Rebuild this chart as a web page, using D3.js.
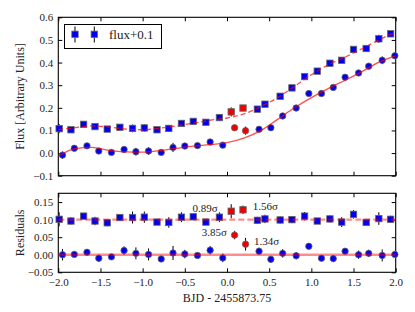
<!DOCTYPE html>
<html>
<head>
<meta charset="utf-8">
<script src="https://cdn.jsdelivr.net/npm/d3@7"></script>
<style>
  body { margin: 0; background: #fff; }
  svg text { font-family: "Liberation Serif", "Times New Roman", Times, "DejaVu Serif", serif; fill: #222; }
  .tick line { stroke: #000; }
</style>
</head>
<body>
<div id="svg_container"></div>
<script>
/* -----------------------
data
------------------------- */

// lower series (circles), flux and residuals
var xLow = [-1.95,-1.81,-1.66,-1.52,-1.37,-1.22,-1.08,-0.93,-0.78,-0.64,-0.50,-0.35,-0.20,-0.05,0.09,0.22,0.38,0.52,0.66,0.82,0.97,1.12,1.26,1.40,1.56,1.68,1.84,1.99]
var fluxLow = [-0.009,0.021,0.032,0.009,0.003,0.016,0.006,0.009,0.003,0.025,0.031,0.033,0.049,0.035,0.112,0.099,0.105,0.112,0.164,0.199,0.263,0.263,0.290,0.335,0.354,0.384,0.410,0.430]
var errLow = [0.016,0.008,0.007,0.010,0.008,0.012,0.017,0.017,0.008,0.020,0.012,0.006,0.012,0.012,0.012,0.018,0.010,0.010,0.012,0.010,0.008,0.008,0.010,0.008,0.012,0.010,0.017,0.008]
var resLow = [0.000,0.001,0.007,-0.010,-0.006,0.012,0.004,0.001,-0.012,0.005,0.002,-0.002,0.013,-0.009,0.056,0.030,0.010,-0.013,0.004,-0.003,0.024,-0.010,-0.011,0.010,0.000,0.004,-0.002,0.001]

// upper series (squares), flux+0.1 and residuals+0.1
var xHigh = [-1.99,-1.85,-1.70,-1.565,-1.42,-1.27,-1.12,-0.98,-0.83,-0.69,-0.54,-0.40,-0.25,-0.09,0.05,0.19,0.36,0.45,0.63,0.77,0.92,1.07,1.22,1.36,1.50,1.65,1.80,1.94]
var fluxHigh = [0.108,0.103,0.127,0.117,0.106,0.114,0.109,0.111,0.103,0.109,0.131,0.140,0.136,0.157,0.182,0.199,0.194,0.216,0.251,0.288,0.338,0.362,0.397,0.410,0.458,0.462,0.505,0.527]
var errHigh = [0.020,0.010,0.006,0.012,0.010,0.010,0.017,0.016,0.006,0.015,0.014,0.006,0.008,0.014,0.020,0.012,0.010,0.012,0.010,0.010,0.012,0.008,0.010,0.014,0.012,0.008,0.018,0.010]
var resHigh = [0.101,0.096,0.110,0.096,0.091,0.106,0.106,0.107,0.093,0.092,0.107,0.108,0.093,0.107,0.124,0.128,0.098,0.102,0.099,0.100,0.110,0.096,0.102,0.093,0.115,0.092,0.103,0.101]

// flagged points (red)
var outliers = [14, 15]

// model curves
var modelX = [-2.0,-1.8,-1.6,-1.4,-1.2,-1.0,-0.8,-0.6,-0.4,-0.2,0.0,0.2,0.4,0.6,0.8,1.0,1.2,1.4,1.6,1.8,2.0]
var modelLow = [-0.014,0.020,0.025,0.012,0.005,0.004,0.011,0.021,0.031,0.037,0.046,0.066,0.099,0.149,0.200,0.245,0.285,0.322,0.360,0.402,0.430]
var modelHigh = [0.104,0.112,0.120,0.115,0.106,0.103,0.110,0.120,0.132,0.145,0.155,0.173,0.205,0.245,0.295,0.346,0.390,0.424,0.461,0.500,0.535]

// residual reference levels
var resLevels = [0.0, 0.1]

// sigma labels: upper outliers then lower outliers
var sigmaHigh = ['0.89', '1.56']
var sigmaLow = ['3.85', '1.34']

var xTicks = [-2.0,-1.5,-1.0,-0.5,0.0,0.5,1.0,1.5,2.0]
var yTicksTop = [-0.1,0.0,0.1,0.2,0.3,0.4,0.5,0.6]
var yTicksRes = [-0.05,0.00,0.05,0.10,0.15]

/* -----------------------
main variables
------------------------- */

var width = 415;
var height = 312;
var left = 58.3, right = 395.7;
var top1 = 17.3, bot1 = 175.7;
var top2 = 193.3, bot2 = 272.3;
var tick = 4;
var msize = 6.4;
var serif = '"Liberation Serif", "Times New Roman", Times, "DejaVu Serif", serif';

var svg = d3.select("#svg_container")
	.append("svg")
	.attr("width", width)
	.attr("height", height)
	.attr("font-family", serif)

var x = d3.scaleLinear().domain([-2, 2]).range([left, right]);
var y1 = d3.scaleLinear().domain([-0.1, 0.6]).range([bot1, top1]);
var y2 = d3.scaleLinear().domain([-0.05, 0.175]).range([bot2, top2]);

function isOut(i) { return outliers.indexOf(i) >= 0 }

/* -----------------------
axes
------------------------- */

function frame(yScale, yT, yFmt, showX) {
	var t = yScale.range()[1], b = yScale.range()[0];
	var g = svg.append('g');

	g.append('g').attr('transform', 'translate(0,' + b + ')')
		.call(d3.axisBottom(x).tickValues(xTicks).tickSize(-tick).tickPadding(6)
			.tickFormat(showX ? d3.format('.1f') : ''));
	g.append('g').attr('transform', 'translate(0,' + t + ')')
		.call(d3.axisTop(x).tickValues(xTicks).tickSize(-tick).tickFormat(''));
	g.append('g').attr('transform', 'translate(' + left + ',0)')
		.call(d3.axisLeft(yScale).tickValues(yT).tickSize(-tick).tickPadding(5).tickFormat(d3.format(yFmt)));
	g.append('g').attr('transform', 'translate(' + right + ',0)')
		.call(d3.axisRight(yScale).tickValues(yT).tickSize(-tick).tickFormat(''));

	g.selectAll('.domain').remove();
	g.selectAll('g').attr('font-family', serif).attr('font-size', 11);
	g.selectAll('.tick text').attr('fill', '#222');

	svg.append('rect')
		.attr('x', left).attr('y', t)
		.attr('width', right - left).attr('height', b - t)
		.attr('fill', 'none').attr('stroke', '#000').attr('stroke-width', 1.1)
}

frame(y1, yTicksTop, '.1f', false);
frame(y2, yTicksRes, '.2f', true);

/* -----------------------
points
------------------------- */

function errbars(g, xs, ys, es, yScale) {
	g.selectAll('.err').data(xs).enter().append('line')
		.attr('x1', function(d){ return x(d) })
		.attr('x2', function(d){ return x(d) })
		.attr('y1', function(d,i){ return yScale(ys[i] - es[i]) })
		.attr('y2', function(d,i){ return yScale(ys[i] + es[i]) })
		.attr('stroke', '#000').attr('stroke-width', 1)
}

function circles(g, xs, ys, yScale) {
	g.selectAll('.pt').data(xs).enter().append('circle')
		.attr('cx', function(d){ return x(d) })
		.attr('cy', function(d,i){ return yScale(ys[i]) })
		.attr('r', msize / 2)
		.attr('fill', function(d,i){ return isOut(i) ? '#ee0000' : '#0000ee' })
		.attr('stroke', '#666').attr('stroke-width', 0.8)
}

function squares(g, xs, ys, yScale) {
	g.selectAll('.pt').data(xs).enter().append('rect')
		.attr('x', function(d){ return x(d) - msize / 2 })
		.attr('y', function(d,i){ return yScale(ys[i]) - msize / 2 })
		.attr('width', msize).attr('height', msize)
		.attr('fill', function(d,i){ return isOut(i) ? '#ee0000' : '#0000ee' })
		.attr('stroke', '#666').attr('stroke-width', 0.8)
}

var p1 = svg.append('g');
errbars(p1.append('g'), xLow, fluxLow, errLow, y1);
errbars(p1.append('g'), xHigh, fluxHigh, errHigh, y1);
circles(p1.append('g'), xLow, fluxLow, y1);
squares(p1.append('g'), xHigh, fluxHigh, y1);

var p2 = svg.append('g');
errbars(p2.append('g'), xLow, resLow, errLow, y2);
errbars(p2.append('g'), xHigh, resHigh, errHigh, y2);
circles(p2.append('g'), xLow, resLow, y2);
squares(p2.append('g'), xHigh, resHigh, y2);

/* -----------------------
model lines
------------------------- */

var line1 = d3.line()
	.x(function(d,i){ return x(modelX[i]) })
	.y(function(d){ return y1(d) })
	.curve(d3.curveMonotoneX)

svg.append('path').datum(modelLow)
	.attr('d', line1)
	.attr('fill', 'none').attr('stroke', '#ff0000').attr('stroke-opacity', 0.7).attr('stroke-width', 1.3)

svg.append('path').datum(modelHigh)
	.attr('d', line1)
	.attr('fill', 'none').attr('stroke', '#ff0000').attr('stroke-opacity', 0.7).attr('stroke-width', 1.3)
	.attr('stroke-dasharray', '5,3')

svg.selectAll('.lvl').data(resLevels).enter().append('line')
	.attr('x1', left).attr('x2', right)
	.attr('y1', function(d){ return y2(d) })
	.attr('y2', function(d){ return y2(d) })
	.attr('stroke', '#ff0000').attr('stroke-opacity', 0.45).attr('stroke-width', 2.4)
	.attr('stroke-dasharray', function(d,i){ return i == 0 ? null : '6,3' })

/* -----------------------
sigma labels
------------------------- */

// [x, y, anchor] in data units of the residual panel
var labelPos = [[-0.11, 0.134, 'end'], [0.305, 0.138, 'start'], [0.0, 0.065, 'end'], [0.32, 0.038, 'start']]
var sigmas = sigmaHigh.concat(sigmaLow)

svg.selectAll('.sig').data(sigmas).enter().append('text')
	.attr('x', function(d,i){ return x(labelPos[i][0]) })
	.attr('y', function(d,i){ return y2(labelPos[i][1]) })
	.attr('dy', '0.35em')
	.attr('text-anchor', function(d,i){ return labelPos[i][2] })
	.attr('font-size', 11)
	.text(function(d){ return d + 'σ' })

/* -----------------------
labels & legend
------------------------- */

svg.append('text')
	.attr('transform', 'translate(24,' + ((top1 + bot1) / 2) + ') rotate(-90)')
	.attr('text-anchor', 'middle')
	.attr('font-size', 12)
	.text('Flux [Arbitrary Units]')

svg.append('text')
	.attr('transform', 'translate(24,' + ((top2 + bot2) / 2) + ') rotate(-90)')
	.attr('text-anchor', 'middle')
	.attr('font-size', 12)
	.text('Residuals')

svg.append('text')
	.attr('x', (left + right) / 2).attr('y', 302)
	.attr('text-anchor', 'middle')
	.attr('font-size', 12)
	.text('BJD - 2455873.75')

var leg = svg.append('g');
leg.append('rect')
	.attr('x', 64.5).attr('y', 24.5).attr('width', 97).attr('height', 24)
	.attr('fill', '#fff').attr('stroke', '#000').attr('stroke-width', 1)

;[75, 94.3].forEach(function(lx) {
	leg.append('line').attr('x1', lx).attr('x2', lx).attr('y1', 26.5).attr('y2', 42.5)
		.attr('stroke', '#000').attr('stroke-width', 1)
	leg.append('rect').attr('x', lx - msize / 2).attr('y', 34.3 - msize / 2)
		.attr('width', msize).attr('height', msize)
		.attr('fill', '#0000ee').attr('stroke', '#666').attr('stroke-width', 0.8)
})

leg.append('text')
	.attr('x', 109).attr('y', 38.8)
	.attr('font-size', 13)
	.text('flux+0.1')
</script>
</body>
</html>
